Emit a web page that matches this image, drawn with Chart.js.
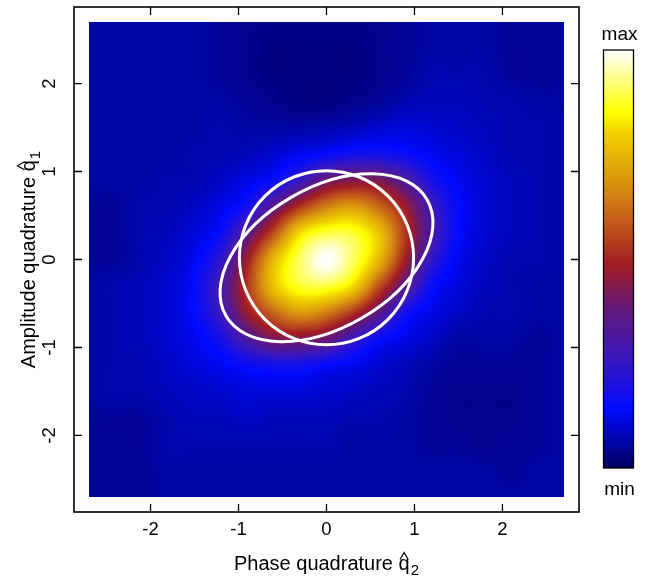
<!DOCTYPE html>
<html>
<head>
<meta charset="utf-8">
<script src="https://cdn.jsdelivr.net/npm/chart.js@4.4.0/dist/chart.umd.min.js"></script>
<style>
  html, body { margin: 0; padding: 0; background: #ffffff; }
  #wrap { width: 649px; height: 576px; }
</style>
</head>
<body>
<div id="wrap"><canvas id="wigner" width="649" height="576"></canvas></div>
<script>
// Sampling grid of the reconstructed Wigner function (quadrature units)
const q2Grid = [-2.7, -2.4, -2.1, -1.8, -1.5, -1.2, -0.9, -0.6, -0.3, 0, 0.3, 0.6, 0.9, 1.2, 1.5, 1.8, 2.1, 2.4, 2.7];
const q1Grid = [2.7, 2.4, 2.1, 1.8, 1.5, 1.2, 0.9, 0.6, 0.3, 0, -0.3, -0.6, -0.9, -1.2, -1.5, -1.8, -2.1, -2.4, -2.7];

// W(q2, q1) in percent of its maximum; one row per q1Grid entry, columns follow q2Grid
const wignerRows = [
  [6, 6, 6, 6, 6, 5, 4, 4, 4, 4, 4, 4, 5, 6, 6, 6, 5, 5, 5],
  [6, 6, 6, 6, 6, 5, 4, 3, 3, 3, 3, 4, 5, 6, 6, 6, 5, 5, 5],
  [6, 6, 6, 6, 6, 5, 4, 3, 3, 3, 3, 4, 5, 7, 7, 7, 5, 5, 5],
  [6, 6, 6, 6, 6, 6, 5, 4, 3, 3, 4, 5, 7, 8, 8, 7, 7, 6, 6],
  [6, 6, 6, 6, 6, 7, 6, 6, 6, 7, 8, 10, 11, 10, 9, 8, 7, 7, 6],
  [6, 6, 6, 6, 7, 7, 8, 10, 13, 15, 18, 18, 16, 13, 11, 9, 7, 7, 6],
  [6, 6, 6, 7, 7, 9, 12, 16, 26, 39, 43, 42, 32, 19, 13, 10, 8, 7, 6],
  [5, 5, 7, 7, 9, 12, 18, 36, 53, 65, 70, 61, 47, 27, 15, 10, 8, 7, 6],
  [5, 5, 7, 8, 11, 16, 35, 57, 81, 89, 88, 77, 53, 30, 15, 10, 8, 7, 6],
  [5, 5, 7, 9, 13, 24, 48, 75, 91, 100, 91, 75, 48, 24, 13, 9, 7, 7, 6],
  [6, 7, 8, 10, 15, 30, 53, 77, 88, 89, 81, 57, 35, 16, 11, 8, 7, 6, 6],
  [6, 7, 8, 10, 15, 27, 47, 61, 70, 65, 53, 36, 18, 12, 9, 7, 7, 6, 6],
  [6, 7, 8, 10, 13, 19, 32, 42, 43, 39, 26, 16, 12, 9, 6, 6, 6, 5, 6],
  [6, 7, 7, 9, 11, 13, 16, 18, 18, 15, 13, 10, 8, 6, 5, 5, 5, 5, 6],
  [6, 7, 7, 8, 9, 10, 11, 11, 11, 10, 9, 8, 7, 5, 4, 4, 4, 5, 6],
  [5, 5, 5, 7, 8, 8, 9, 8, 8, 8, 7, 7, 6, 5, 4, 4, 4, 5, 6],
  [5, 5, 5, 7, 7, 7, 7, 7, 7, 7, 6, 6, 6, 5, 5, 4, 5, 5, 6],
  [5, 5, 5, 6, 6, 6, 6, 6, 6, 6, 6, 6, 6, 6, 6, 6, 5, 6, 6],
  [5, 5, 5, 6, 6, 6, 6, 6, 6, 6, 6, 6, 6, 6, 6, 6, 6, 6, 6]
];

// Axis ticks and range
const tickValues = [-2, -1, 0, 1, 2];
const tickLabels = ['-2', '-1', '0', '1', '2'];
const axisMin = -2.87;
const axisMax = 2.87;

// Uncertainty ellipses (centre, semi-axes, tilt from the q2 axis)
const ellipseQ2 = [0, 0];
const ellipseQ1 = [0.02, 0.02];
const ellipseSemiA = [0.99, 1.32];
const ellipseSemiB = [0.99, 0.795];
const ellipseTiltDeg = [0, 30];

// Axis titles and colour-bar labels
const xTitle = 'Phase quadrature ';
const xTitleIndex = '2';
const yTitle = 'Amplitude quadrature ';
const yTitleIndex = '1';
const barTop = 'max';
const barBottom = 'min';

// ---- styling ----
const FONT_FAMILY = "'Liberation Sans', Arial, Helvetica, sans-serif";
const PALETTE = [
  [0.000, 0, 0, 96],
  [0.143, 0, 10, 255],
  [0.263, 58, 24, 190],
  [0.382, 98, 24, 120],
  [0.486, 162, 28, 34],
  [0.582, 192, 86, 28],
  [0.677, 216, 144, 16],
  [0.797, 240, 208, 0],
  [0.853, 255, 255, 0],
  [0.940, 255, 255, 150],
  [1.000, 255, 255, 255]
];

function colourAt(v) {
  v = Math.max(0, Math.min(1, v));
  for (let k = 1; k < PALETTE.length; k++) {
    if (v <= PALETTE[k][0]) {
      const a = PALETTE[k - 1], b = PALETTE[k];
      const t = (v - a[0]) / (b[0] - a[0]);
      return [a[1] + t * (b[1] - a[1]), a[2] + t * (b[2] - a[2]), a[3] + t * (b[3] - a[3])];
    }
  }
  const last = PALETTE[PALETTE.length - 1];
  return [last[1], last[2], last[3]];
}

// Catmull-Rom resampling of the grid for a smooth surface
function cubic(p0, p1, p2, p3, t) {
  return p1 + 0.5 * t * (p2 - p0 + t * (2 * p0 - 5 * p1 + 4 * p2 - p3 + t * (3 * (p1 - p2) + p3 - p0)));
}
function gridAt(r, c) {
  r = Math.max(0, Math.min(wignerRows.length - 1, r));
  c = Math.max(0, Math.min(wignerRows[0].length - 1, c));
  return wignerRows[r][c];
}
function sampleGrid(gx, gy) {
  const i = Math.floor(gx), j = Math.floor(gy);
  const tx = gx - i, ty = gy - j;
  const rows = [];
  for (let m = -1; m <= 2; m++) {
    rows.push(cubic(gridAt(j + m, i - 1), gridAt(j + m, i), gridAt(j + m, i + 1), gridAt(j + m, i + 2), tx));
  }
  return cubic(rows[0], rows[1], rows[2], rows[3], ty);
}

const heatmapPlugin = {
  id: 'wignerSurface',
  beforeDatasetsDraw(chart) {
    const { ctx } = chart;
    const xs = chart.scales.x, ys = chart.scales.y;
    const left = Math.round(xs.getPixelForValue(q2Grid[0]));
    const right = Math.round(xs.getPixelForValue(q2Grid[q2Grid.length - 1]));
    const top = Math.round(ys.getPixelForValue(q1Grid[0]));
    const bottom = Math.round(ys.getPixelForValue(q1Grid[q1Grid.length - 1]));
    const w = right - left, h = bottom - top;
    const off = document.createElement('canvas');
    off.width = w; off.height = h;
    const octx = off.getContext('2d');
    const img = octx.createImageData(w, h);
    const dq2 = q2Grid[1] - q2Grid[0];
    const dq1 = q1Grid[0] - q1Grid[1];
    for (let j = 0; j < h; j++) {
      const q1 = ys.getValueForPixel(top + j + 0.5);
      const gy = (q1Grid[0] - q1) / dq1;
      for (let i = 0; i < w; i++) {
        const q2 = xs.getValueForPixel(left + i + 0.5);
        const gx = (q2 - q2Grid[0]) / dq2;
        const c = colourAt(sampleGrid(gx, gy) / 100);
        const p = (j * w + i) * 4;
        img.data[p] = c[0]; img.data[p + 1] = c[1]; img.data[p + 2] = c[2]; img.data[p + 3] = 255;
      }
    }
    octx.putImageData(img, 0, 0);
    ctx.drawImage(off, left, top);
  }
};

const ellipsePlugin = {
  id: 'ellipses',
  afterDatasetsDraw(chart) {
    const { ctx } = chart;
    const xs = chart.scales.x, ys = chart.scales.y;
    ctx.save();
    ctx.strokeStyle = '#ffffff';
    ctx.lineWidth = 3;
    for (let k = 0; k < ellipseQ2.length; k++) {
      const cx = xs.getPixelForValue(ellipseQ2[k]);
      const cy = ys.getPixelForValue(ellipseQ1[k]);
      const sx = xs.getPixelForValue(ellipseQ2[k] + 1) - cx;
      const sy = cy - ys.getPixelForValue(ellipseQ1[k] + 1);
      ctx.save();
      ctx.translate(cx, cy);
      ctx.scale(sx, -sy);
      ctx.rotate(ellipseTiltDeg[k] * Math.PI / 180);
      ctx.beginPath();
      ctx.ellipse(0, 0, ellipseSemiA[k], ellipseSemiB[k], 0, 0, Math.PI * 2);
      ctx.restore();
      ctx.stroke();
    }
    ctx.restore();
  }
};

function drawQuadTitle(ctx, label, index, px, py, vertical) {
  ctx.save();
  ctx.translate(px, py);
  if (vertical) ctx.rotate(-Math.PI / 2);
  const main = '20px ' + FONT_FAMILY, small = '15px ' + FONT_FAMILY;
  ctx.font = main;
  const wLabel = ctx.measureText(label).width;
  const wq = ctx.measureText('q').width;
  ctx.font = small;
  const wIdx = ctx.measureText(index).width;
  const x0 = -(wLabel + wq + 1 + wIdx) / 2;
  ctx.fillStyle = '#000';
  ctx.strokeStyle = '#000';
  ctx.textAlign = 'left';
  ctx.textBaseline = 'alphabetic';
  ctx.font = main;
  ctx.fillText(label + 'q', x0, 0);
  const qx = x0 + wLabel;
  ctx.lineWidth = 1.2;
  ctx.beginPath();
  ctx.moveTo(qx + 1.5, -10.5);
  ctx.lineTo(qx + wq / 2, -17.5);
  ctx.lineTo(qx + wq - 1.5, -10.5);
  ctx.stroke();
  ctx.font = small;
  ctx.fillText(index, qx + wq + 1, 5);
  ctx.restore();
}

const framePlugin = {
  id: 'frameAndLabels',
  afterDraw(chart) {
    const { ctx, chartArea: a } = chart;
    const xs = chart.scales.x, ys = chart.scales.y;
    ctx.save();
    // box
    ctx.strokeStyle = '#000';
    ctx.lineWidth = 1.6;
    ctx.strokeRect(a.left, a.top, a.right - a.left, a.bottom - a.top);
    // inward ticks on all sides
    const len = 8;
    ctx.lineWidth = 1.3;
    ctx.beginPath();
    tickValues.forEach(v => {
      const px = xs.getPixelForValue(v);
      ctx.moveTo(px, a.bottom); ctx.lineTo(px, a.bottom - len);
      ctx.moveTo(px, a.top); ctx.lineTo(px, a.top + len);
      const py = ys.getPixelForValue(v);
      ctx.moveTo(a.left, py); ctx.lineTo(a.left + len, py);
      ctx.moveTo(a.right, py); ctx.lineTo(a.right - len, py);
    });
    ctx.stroke();
    // tick labels
    ctx.fillStyle = '#000';
    ctx.font = '18.5px ' + FONT_FAMILY;
    ctx.textAlign = 'center';
    ctx.textBaseline = 'middle';
    tickValues.forEach((v, k) => {
      ctx.fillText(tickLabels[k], xs.getPixelForValue(v), a.bottom + 18);
      ctx.save();
      ctx.translate(a.left - 24, ys.getPixelForValue(v));
      ctx.rotate(-Math.PI / 2);
      ctx.fillText(tickLabels[k], 0, 0);
      ctx.restore();
    });
    ctx.restore();
    // axis titles
    const midX = (a.left + a.right) / 2, midY = (a.top + a.bottom) / 2;
    drawQuadTitle(ctx, xTitle, xTitleIndex, midX, a.bottom + 58, false);
    drawQuadTitle(ctx, yTitle, yTitleIndex, a.left - 39, midY, true);

    // colour bar
    const bx = 603.5, bw = 30, by = 50, bh = 418;
    for (let r = 0; r < bh; r++) {
      const c = colourAt(1 - (r + 0.5) / bh);
      ctx.fillStyle = 'rgb(' + Math.round(c[0]) + ',' + Math.round(c[1]) + ',' + Math.round(c[2]) + ')';
      ctx.fillRect(bx, by + r, bw, 1);
    }
    ctx.save();
    ctx.strokeStyle = '#000';
    ctx.lineWidth = 1.3;
    ctx.strokeRect(bx, by, bw, bh);
    ctx.fillStyle = '#000';
    ctx.font = '19px ' + FONT_FAMILY;
    ctx.textAlign = 'center';
    ctx.textBaseline = 'alphabetic';
    ctx.fillText(barTop, bx + bw / 2 + 1, 40);
    ctx.fillText(barBottom, bx + bw / 2 + 1, 495);
    ctx.restore();
  }
};

new Chart(document.getElementById('wigner'), {
  type: 'scatter',
  data: { datasets: [] },
  options: {
    responsive: false,
    animation: false,
    devicePixelRatio: 1,
    layout: { padding: { left: 74, right: 70, top: 7, bottom: 64 } },
    scales: {
      x: { type: 'linear', min: axisMin, max: axisMax, display: false },
      y: { type: 'linear', min: axisMin, max: axisMax, display: false }
    },
    plugins: { legend: { display: false }, tooltip: { enabled: false } }
  },
  plugins: [heatmapPlugin, ellipsePlugin, framePlugin]
});
</script>
</body>
</html>
